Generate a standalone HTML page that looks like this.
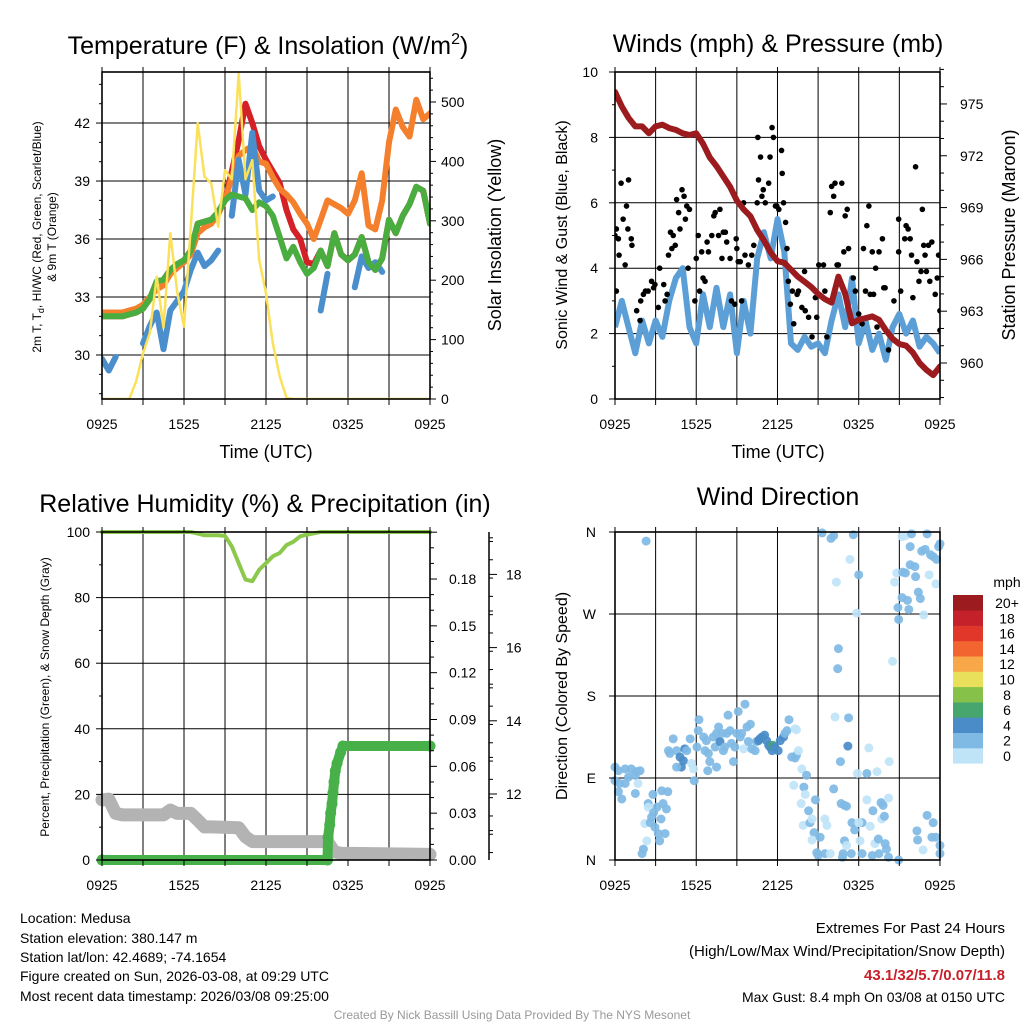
<!DOCTYPE html>
<html><head><meta charset="utf-8"><style>
body{margin:0;background:#fff;}
svg{display:block;font-family:"Liberation Sans",sans-serif;}
</style></head><body>
<svg id="c" width="1024" height="1024" viewBox="0 0 1024 1024">
<rect width="1024" height="1024" fill="#fff"/>
<defs>
<clipPath id="cp1"><rect x="102" y="72" width="328" height="327"/></clipPath>
<clipPath id="cp2"><rect x="615" y="72" width="325" height="327"/></clipPath>
<clipPath id="cp3"><rect x="95" y="525" width="345" height="342"/></clipPath>
<clipPath id="cp4"><rect x="608" y="525" width="340" height="342"/></clipPath>
</defs>
<g id="p1"></g>
<g id="p2"></g>
<g id="p3"></g>
<g id="p4"></g>
<g font-size="25" text-anchor="middle">
<text x="268" y="54">Temperature (F) &amp; Insolation (W/m<tspan font-size="16" dy="-10">2</tspan><tspan dy="10">)</tspan></text>
<text x="778" y="52">Winds (mph) &amp; Pressure (mb)</text>
<text x="265" y="512">Relative Humidity (%) &amp; Precipitation (in)</text>
<text x="778" y="505">Wind Direction</text>
</g>
<g font-size="18" text-anchor="middle">
<text x="266" y="458">Time (UTC)</text>
<text x="778" y="458">Time (UTC)</text>
<text transform="translate(501,235) rotate(-90)">Solar Insolation (Yellow)</text>
<text transform="translate(1015,235) rotate(-90)">Station Pressure (Maroon)</text>
</g>
<g font-size="16" text-anchor="middle">
<text transform="translate(567,235) rotate(-90)">Sonic Wind &amp; Gust (Blue, Black)</text>
<text transform="translate(567,696) rotate(-90)">Direction (Colored By Speed)</text>
</g>
<g font-size="12" text-anchor="middle">
<text transform="translate(41,237) rotate(-90)">2m T, T<tspan font-size="9" dy="3">d</tspan><tspan dy="-3">, HI/WC (Red, Green, Scarlet/Blue)</tspan></text>
<text transform="translate(56,237) rotate(-90)">&amp; 9m T (Orange)</text>
<text transform="translate(49,697) rotate(-90)">Percent, Precipitation (Green), &amp; Snow Depth (Gray)</text>
</g>
<g font-size="14">
<text x="20" y="923">Location: Medusa</text>
<text x="20" y="943">Station elevation: 380.147 m</text>
<text x="20" y="962">Station lat/lon: 42.4689; -74.1654</text>
<text x="20" y="981">Figure created on Sun, 2026-03-08, at 09:29 UTC</text>
<text x="20" y="1001">Most recent data timestamp: 2026/03/08 09:25:00</text>
</g>
<g font-size="15" text-anchor="end">
<text x="1005" y="933">Extremes For Past 24 Hours</text>
<text x="1005" y="956">(High/Low/Max Wind/Precipitation/Snow Depth)</text>
<text x="1005" y="980" fill="#c8202a" font-weight="bold">43.1/32/5.7/0.07/11.8</text>
<text x="1005" y="1002" font-size="14">Max Gust: 8.4 mph On 03/08 at 0150 UTC</text>
</g>
<text x="512" y="1019" font-size="12" fill="#999" text-anchor="middle">Created By Nick Bassill Using Data Provided By The NYS Mesonet</text>
</svg>
<script>
// ---------- data ----------
const halfHours = [0,0.5,1,1.5,2,2.5,3,3.5,4,4.5,5,5.5,6,6.5,7,7.5,8,8.5,9,9.5,10,10.5,11,11.5,12,12.5,13,13.5,14,14.5,15,15.5,16,16.5,17,17.5,18,18.5,19,19.5,20,20.5,21,21.5,22,22.5,23,23.5,24];
const timeTickLabels = ["0925","1525","2125","0325","0925"];
const tempGreen = [32.0,32.0,32.0,32.0,32.1,32.2,32.4,32.9,33.8,33.9,34.4,34.7,34.9,35.4,36.8,36.9,37.0,37.4,38.0,38.3,38.2,38.1,37.5,37.9,37.7,37.2,36.1,35.0,35.6,34.8,34.2,34.5,35.4,34.6,36.3,35.2,34.9,35.2,36.1,34.8,34.4,35.0,37.0,36.3,37.2,37.8,38.7,38.5,36.8];
const tempRed = [32.0,32.0,32.0,32.0,32.1,32.2,32.4,32.9,33.8,33.9,34.4,34.7,34.9,35.4,36.8,36.9,37.0,37.4,38.0,39.5,41.1,43.0,42.0,40.8,40.1,39.5,38.9,37.5,36.5,36.0,34.8,34.7,35.4,34.6,36.3,35.2,34.9,35.2,36.1,34.8,34.4,35.0,37.0,36.3,37.2,37.8,38.7,38.5,36.8];
const tempBlue = [29.8,29.2,29.9,null,null,null,30.6,31.5,32.2,30.3,32.3,32.8,33.3,34.4,35.3,34.6,34.9,35.4,null,37.2,40.1,38.3,41.5,38.5,38.0,38.2,null,null,null,null,null,null,32.3,34.2,null,null,null,33.5,35.1,34.5,34.8,34.3,null,36.0,null,null,null,null,null];
const tempOrange = [32.2,32.2,32.2,32.2,32.3,32.4,32.6,33.0,33.4,33.6,34.2,34.5,34.8,35.2,36.3,36.6,36.8,37.3,38.0,39.2,40.3,40.6,40.8,40.0,39.9,39.2,38.6,38.3,37.9,37.3,36.8,36.0,37.0,38.0,37.8,37.6,37.3,38.0,39.4,36.7,36.5,38.0,41.0,42.7,41.8,41.3,43.2,42.2,42.5];
const solar = [0,0,0,0,0,30,77,111,206,120,279,180,122,290,464,374,363,290,385,370,548,370,402,234,178,94,38,2,0,0,0,0,0,0,0,0,0,0,0,0,0,0,0,0,0,0,0,0,0];
const tempTicks = [30,33,36,39,42];
const solarTicks = [0,100,200,300,400,500];

const pressure = [975.7,974.85,974.2,973.7,973.7,973.3,973.7,973.8,973.6,973.5,973.3,973.2,973.3,972.7,971.9,971.4,970.8,970.2,969.4,968.9,968.5,967.7,967.1,966.4,965.9,965.8,965.4,965.0,964.7,964.4,964.0,963.7,963.5,965.0,964.0,962.3,962.5,962.6,962.7,962.5,961.9,961.4,961.1,961.0,960.6,960.0,959.6,959.3,959.8];
const windSpeed = [2.2,3.0,2.2,1.4,2.4,1.7,2.4,1.9,3.0,3.7,4.0,2.2,1.7,3.2,2.2,3.4,2.2,3.2,1.4,3.0,2.0,4.3,5.1,4.3,5.5,4.5,1.7,1.5,1.9,1.6,1.7,1.4,2.4,3.2,2.2,3.7,1.7,2.4,1.5,2.0,1.2,2.2,2.6,2.0,2.4,1.6,1.9,1.7,1.4];
const gustHour = [0,0.1,0.25,0.3,0.45,0.6,0.75,0.85,0.95,1.0,1.2,1.25,0.1,1.6,1.85,1.9,2.1,2.25,2.45,2.7,2.85,2.95,3.2,3.6,3.7,3.85,3.3,3.95,4.1,4.2,4.3,4.45,4.55,4.7,4.8,4.95,5.1,5.2,5.3,5.5,5.4,5.9,6.0,6.15,6.25,6.4,6.5,6.65,6.8,6.9,7.15,7.3,7.4,7.75,7.65,8.0,8.15,7.9,8.25,8.5,8.6,8.85,8.95,9.0,9.1,9.25,9.35,9.5,9.6,9.85,10.1,10.25,10.5,10.55,10.6,10.75,10.85,10.95,11.1,11.35,11.45,11.6,11.7,11.85,11.95,12.1,12.3,12.35,12.45,12.6,12.7,12.8,12.95,13.1,13.2,13.45,13.55,13.8,14.0,14.05,14.3,14.55,14.8,14.9,15.05,15.4,15.5,15.65,15.9,16.0,16.15,16.25,16.4,16.5,16.75,16.9,17.0,17.15,17.25,17.6,17.75,18.0,18.25,18.35,18.5,18.6,18.75,18.85,19.0,19.1,19.25,19.35,19.5,19.75,19.85,19.95,20.2,20.6,20.95,20.95,21.1,21.4,21.5,21.65,21.8,21.9,22.0,22.2,22.3,22.45,22.6,22.7,22.8,22.9,23.0,23.15,23.25,23.4,23.65,23.8,23.9,24.0,24.0,23.95];
const gustMph = [5.0,5.2,4.9,4.4,6.6,5.5,4.1,5.9,5.2,6.7,4.9,4.7,3.3,2.7,2.4,3.0,3.2,3.3,3.3,3.6,3.4,3.5,2.8,3.5,3.0,3.2,4.0,4.4,5.1,4.6,5.0,4.7,6.1,5.7,5.2,6.4,6.2,5.5,5.9,5.8,4.0,3.0,4.3,5.0,3.3,4.5,3.7,3.6,4.8,4.5,5.0,5.6,5.7,5.8,5.0,5.1,5.1,4.3,4.8,4.3,3.0,2.9,4.9,4.6,4.2,4.2,3.0,6.0,4.4,4.1,4.4,4.7,6.0,8.0,6.7,7.4,6.2,6.4,6.0,6.6,7.4,8.3,8.0,5.9,5.9,5.8,7.6,6.9,6.0,5.4,4.6,3.6,2.9,3.3,2.3,3.2,3.3,2.8,3.9,2.7,2.5,1.9,3.1,2.5,4.1,4.1,3.3,1.9,5.7,6.5,6.2,6.6,4.1,4.1,6.6,4.5,5.6,5.8,4.6,3.7,3.3,2.6,2.3,4.6,3.3,5.3,5.9,3.2,4.5,3.2,4.0,2.2,4.5,4.9,3.4,3.4,1.5,3.0,5.5,4.5,3.3,4.9,5.3,5.2,4.9,4.4,3.1,7.1,4.2,3.6,3.9,5.8,4.7,4.4,3.9,4.7,3.6,4.8,3.2,3.7,4.4,2.1,2.7,4.4];
const windTicks = [0,2,4,6,8,10];
const pressureTicks = [960,963,966,969,972,975];

const rh = [100,100,100,100,100,100,100,100,100,100,100,100,100,100,99.5,99,99,99,98.8,95.6,90.5,85.5,85,88.5,90.5,92.6,93.6,96,97,98.7,99.2,99.6,100,100,100,100,100,100,100,100,100,100,100,100,100,100,100,100,100];
const precipHour = [0,16.5,16.54,16.66,16.73,16.83,16.9,16.98,17.07,17.2,17.46,17.63,24];
const precipVal = [0,0,0.0146,0.0225,0.030,0.036,0.043,0.050,0.057,0.062,0.069,0.073,0.073];
const snowHour = [0,0.5,1,1.5,4.5,5,5.5,6.5,7,7.5,8,10,10.5,11,16.5,17,17.5,24];
const snowDepth = [11.84,11.86,11.47,11.43,11.43,11.56,11.47,11.47,11.29,11.1,11.1,11.08,10.83,10.7,10.7,10.42,10.38,10.35];
const rhTicks = [0,20,40,60,80,100];
const precipTicks = [0,0.03,0.06,0.09,0.12,0.15,0.18];
const precipTickLabels = ["0.00","0.03","0.06","0.09","0.12","0.15","0.18"];
const snowTicks = [12,14,16,18];

const dirHour = [2.3,0,0.25,0.75,1.2,1.6,1.85,1.0,1.5,0,0.35,0.75,1.7,0.25,0.5,1.5,2.8,3.45,3.9,2.45,3.1,3.55,2.45,2.85,3.8,2.7,3.4,2.2,2.6,2.95,3.2,3.7,3.3,2.35,2.1,2.0,4.3,4.05,3.95,4.55,4.8,5.05,4.9,4.55,5.15,5.3,5.65,5.8,5.85,5.55,6.05,6.15,6.2,6.55,6.65,6.75,6.9,7.0,6.85,7.25,7.4,7.5,7.65,7.75,8.0,7.9,8.1,8.25,8.35,8.5,8.6,8.75,7.5,8.85,9.0,9.1,9.25,9.35,9.5,9.6,9.75,9.85,10.0,10.1,10.35,10.45,10.6,10.7,10.85,11.05,11.2,11.35,11.45,11.6,11.65,11.8,12.05,12.2,12.45,12.55,12.7,12.85,13.3,13.4,13.05,13.3,13.4,13.55,13.8,14.15,13.2,13.95,14.05,13.75,14.3,14.8,13.9,14.4,14.55,14.7,14.55,15.15,15.5,15.65,14.9,15.0,15.5,15.9,16.8,16.95,17.1,16.85,17.45,18.25,19.0,19.5,20.2,20.95,19.2,19.45,19.95,20.05,18.1,18.25,17.7,17.5,18.0,18.85,19.05,19.7,19.9,19.65,19.8,20.2,18.6,16.7,16.95,17.1,16.15,16.65,17.2,18.75,20.25,17.9,18.6,19.35,16.25,17.25,16.45,16.5,20.5,17.85,20.95,20.9,21.7,22.8,21.2,21.6,22.4,22.55,20.65,20.8,21.25,21.45,21.8,22.15,22.2,23.2,23.7,21.2,21.45,21.9,23.05,21.8,22.65,22.9,23.3,23.5,23.75,23.9,24.0,15.3,15.95,16.15,17.6,17.35,18.0,16.35,22.3,23.05,23.5,23.4,23.7,22.35,22.75,24.0,24.0];
const dirDeg = [350,102,98,100,100,97,98,91,93,87,84,84,84,75,67,73,72,76,75,62,58,62,58,52,56,47,45,40,41,36,29,29,21,21,12,7,133,117,120,120,113,109,102,102,122,120,106,100,87,133,124,142,154,135,120,131,117,108,98,135,124,139,146,130,120,139,124,139,159,142,128,108,102,124,139,163,135,139,122,171,146,130,149,122,120,130,131,133,135,137,131,126,124,120,126,124,120,131,135,139,142,154,144,143,113,112,115,120,100,93,82,80,72,62,54,66,38,41,45,30,22,25,45,38,8,5,7,7,3,21,16,7,7,7,5,7,3,0,18,23,18,12,21,41,33,41,41,37,54,45,48,63,60,68,66,62,60,59,78,108,125,123,108,95,95,97,157,156,210,232,218,271,264,277,275,269,288,285,294,287,305,315,316,315,324,322,311,313,303,355,356,358,358,344,339,341,335,333,330,344,347,359,353,356,357,330,313,305,32,49,41,25,25,22,11,16,7];
const dirSpeed = [3,3,3,3,3,3,3,3,3,3,3,3,1,3,3,3,3,3,3,3,3,3,1,3,3,3,3,1,3,3,3,3,3,1,3,3,3,3,3,3,5,5,5,3,5,3,1,1,3,3,3,3,3,3,3,3,3,3,3,3,3,3,3,5,3,3,3,3,3,3,3,3,3,3,3,3,3,3,1,3,3,3,3,3,3,3,5,5,5,5,5,5,5,5,7,5,5,5,5,3,3,3,1,1,3,3,3,1,1,3,1,3,1,1,3,3,1,3,1,3,1,3,1,1,3,3,3,1,3,3,1,3,3,3,3,3,3,3,1,3,3,3,1,3,3,3,1,1,3,1,3,3,3,1,1,3,3,3,3,3,5,1,1,1,3,1,1,3,3,3,1,1,3,3,3,1,3,3,3,3,1,1,3,3,3,3,3,1,1,1,1,3,3,3,3,3,3,3,3,3,3,3,3,3,3,1,3,1,3,3,3,3,3,3,1,3];
const dirTickLabels = ["N","E","S","W","N"];
const speedBins = ["0","2","4","6","8","10","12","14","16","18","20+"];
const speedColors = ["#bfe4f7","#7fbae5","#4a8cc8","#47a56e","#86c24a","#e8e05a","#f8a848","#f26430","#e1372a","#c4212a","#9b1b1e"];

// ---------- scales ----------
const NS="http://www.w3.org/2000/svg";
const x1=h=>102+h*13.667, yT=t=>355-(t-30)*19.33, yS=w=>399-w*0.594;
const x2=h=>615+h*13.54, yW=m=>399-m*32.7, yP=p=>363-(p-960)*17.27;
const x3=h=>102+h*13.667, yR=r=>860-r*3.28, yPr=v=>860-v*1561, ySn=s=>794-(s-12)*36.6;
const x4=h=>615+h*13.54, yD=d=>860-d*0.9111;

function mk(tag,attrs,parent){const e=document.createElementNS(NS,tag);for(const k in attrs)e.setAttribute(k,attrs[k]);parent.appendChild(e);return e;}
function pathFrom(xs,ys,fx,fy){let d="",pen=false;for(let i=0;i<xs.length;i++){if(ys[i]===null||ys[i]===undefined){pen=false;continue;}d+=(pen?"L":"M")+fx(xs[i]).toFixed(1)+","+fy(ys[i]).toFixed(1);pen=true;}return d;}
function frame(g,x0,y0,x1_,y1_,xf,yTicksArr,yf){
  for(let h=3;h<24;h+=3){const l=mk("line",{x1:xf(h),x2:xf(h),y1:y0,y2:y1_,stroke:"#000","stroke-width":1},g);
  
  }
  yTicksArr.forEach(v=>{const y=yf(v);if(y>y0+2&&y<y1_-2){const l=mk("line",{x1:x0,x2:x1_,y1:y,y2:y,stroke:"#000","stroke-width":1},g);
  
  }});
}
function box(g,x0,y0,x1_,y1_,xf){
  const r=mk("rect",{x:x0,y:y0,width:x1_-x0,height:y1_-y0,fill:"none",stroke:"#000","stroke-width":1.6},g);
  
  
  for(let h=0;h<=24;h+=3){mk("line",{x1:xf(h),x2:xf(h),y1:y1_,y2:y1_+6,stroke:"#000"},g);mk("line",{x1:xf(h),x2:xf(h),y1:y0,y2:y0-5,stroke:"#000"},g);}
  timeTickLabels.forEach((t,i)=>{const tx=mk("text",{x:xf(i*6),y:y1_+30,"font-size":14,"text-anchor":"middle"},g);tx.textContent=t;
  
  });
}
function yLabels(g,vals,labels,yf,x,anchor,size){vals.forEach((v,i)=>{const t=mk("text",{x:x,y:yf(v)+5,"font-size":size||14,"text-anchor":anchor},g);t.textContent=labels?labels[i]:v;
  
  });}

// ---------- panel 1 ----------
const g1=document.getElementById("p1");
frame(g1,102,72,430,399,x1,tempTicks,yT);
const c1=mk("g",{"clip-path":"url(#cp1)"},g1);
[[tempRed,"#d42027","temp-hiwc-line"],[tempOrange,"#f47f2c","temp-9m-line"],[tempBlue,"#4a8fcc","dewpoint-line"],[tempGreen,"#4aad3f","temp-2m-line"]].forEach(s=>{
  const p=mk("path",{d:pathFrom(halfHours,s[0],x1,yT),fill:"none",stroke:s[1],"stroke-width":6,"stroke-linejoin":"round","stroke-linecap":"round"},c1);
  
  
});
const sp=mk("path",{d:pathFrom(halfHours,solar,x1,yS),fill:"none",stroke:"#fbe15a","stroke-width":2.5,"stroke-linejoin":"round"},c1);


box(g1,102,72,430,399,x1);
yLabels(g1,tempTicks,null,yT,90,"end");
for(let t=28;t<=44;t++){mk("line",{x1:102,x2:t%3===0?96:99,y1:yT(t),y2:yT(t),stroke:"#000"},g1);}
yLabels(g1,solarTicks,null,yS,441,"start");
for(let w=0;w<=550;w+=20){mk("line",{x1:430,x2:w%100===0?436:433,y1:yS(w),y2:yS(w),stroke:"#000"},g1);}

// ---------- panel 2 ----------
const g2=document.getElementById("p2");
frame(g2,615,72,940,399,x2,windTicks,yW);
const c2=mk("g",{"clip-path":"url(#cp2)"},g2);
const wp=mk("path",{d:pathFrom(halfHours,windSpeed,x2,yW),fill:"none",stroke:"#5b9fd6","stroke-width":6,"stroke-linejoin":"round"},c2);


gustHour.forEach((h,i)=>{const c=mk("circle",{cx:x2(h),cy:yW(gustMph[i]),r:2.8,fill:"#000"},c2);
  
  });
const pp=mk("path",{d:pathFrom(halfHours,pressure,x2,yP),fill:"none",stroke:"#9b1b1e","stroke-width":6,"stroke-linejoin":"round","stroke-linecap":"round"},c2);


box(g2,615,72,940,399,x2);
yLabels(g2,windTicks,null,yW,598,"end");
for(let m=0;m<=10;m++){mk("line",{x1:615,x2:m%2===0?609:612,y1:yW(m),y2:yW(m),stroke:"#000"},g2);}
yLabels(g2,pressureTicks,null,yP,960,"start");
for(let p=958;p<=977;p++){mk("line",{x1:940,x2:p%3===0?947:944,y1:yP(p),y2:yP(p),stroke:"#000"},g2);}

// ---------- panel 3 ----------
const g3=document.getElementById("p3");
frame(g3,102,532,430,860,x3,rhTicks,yR);
const c3=mk("g",{"clip-path":"url(#cp3)"},g3);
const snp=mk("path",{d:pathFrom(snowHour,snowDepth,x3,ySn),fill:"none",stroke:"#b3b3b3","stroke-width":13,"stroke-linejoin":"round","stroke-linecap":"round"},c3);


const prp=mk("path",{d:pathFrom(precipHour,precipVal,x3,yPr),fill:"none",stroke:"#48b048","stroke-width":10,"stroke-linejoin":"round","stroke-linecap":"round"},c3);


precipHour.forEach((h,i)=>{const c=mk("circle",{cx:x3(h),cy:yPr(precipVal[i]),r:5.5,fill:"#48b048"},c3);
  
  });
const rp=mk("path",{d:pathFrom(halfHours,rh,x3,yR),fill:"none",stroke:"#8cc84b","stroke-width":4,"stroke-linejoin":"round","stroke-linecap":"round"},c3);


box(g3,102,532,430,860,x3);
yLabels(g3,rhTicks,null,yR,90,"end");
for(let r=0;r<=100;r+=10){mk("line",{x1:102,x2:r%20===0?96:99,y1:yR(r),y2:yR(r),stroke:"#000"},g3);}
yLabels(g3,precipTicks,precipTickLabels,yPr,449,"start");
for(let k=0;k<=21;k++){const v=k*0.01;mk("line",{x1:430,x2:k%3===0?437:434,y1:yPr(v),y2:yPr(v),stroke:"#000"},g3);}
const sa=mk("line",{x1:489,x2:489,y1:532,y2:860,stroke:"#000","stroke-width":1.5},g3);


for(let k=0;k<=18;k++){const s=10.4+k*0.5;if(ySn(s)<532||ySn(s)>860)continue;mk("line",{x1:489,x2:493,y1:ySn(s),y2:ySn(s),stroke:"#000"},g3);}
for(let s=11;s<=19;s++){if(ySn(s)>=532&&ySn(s)<=860)mk("line",{x1:489,x2:s%2===0?497:493,y1:ySn(s),y2:ySn(s),stroke:"#000"},g3);}
yLabels(g3,snowTicks,null,ySn,506,"start");

// ---------- panel 4 ----------
const g4=document.getElementById("p4");
frame(g4,615,532,940,860,x4,[0,90,180,270,360],yD);
const c4=mk("g",{"clip-path":"url(#cp4)"},g4);
dirHour.forEach((h,i)=>{const spd=(dirSpeed[i]===undefined)?3:dirSpeed[i];const bin=Math.min(10,Math.floor(spd/2));const c=mk("circle",{cx:x4(h),cy:yD(dirDeg[i]),r:4.5,fill:speedColors[bin],"fill-opacity":0.92},c4);
  
  });
box(g4,615,532,940,860,x4);
dirTickLabels.forEach((l,i)=>{const t=mk("text",{x:596,y:yD(i*90)+5,"font-size":14,"text-anchor":"end"},g4);t.textContent=l;
  
  
  mk("line",{x1:609,x2:615,y1:yD(i*90),y2:yD(i*90),stroke:"#000"},g4);});
const cb=mk("g",{},g4);


const mph=mk("text",{x:1007,y:587,"font-size":14,"text-anchor":"middle"},cb);mph.textContent="mph";


speedBins.forEach((lab,i)=>{const k=10-i;const y=595+k*15.3;
  const r=mk("rect",{x:953,y:y,width:30,height:15.6,fill:speedColors[i]},cb);
  
  
  const t=mk("text",{x:1007,y:y+13,"font-size":14,"text-anchor":"middle"},cb);t.textContent=lab;
  
  });
</script>
</body></html>
